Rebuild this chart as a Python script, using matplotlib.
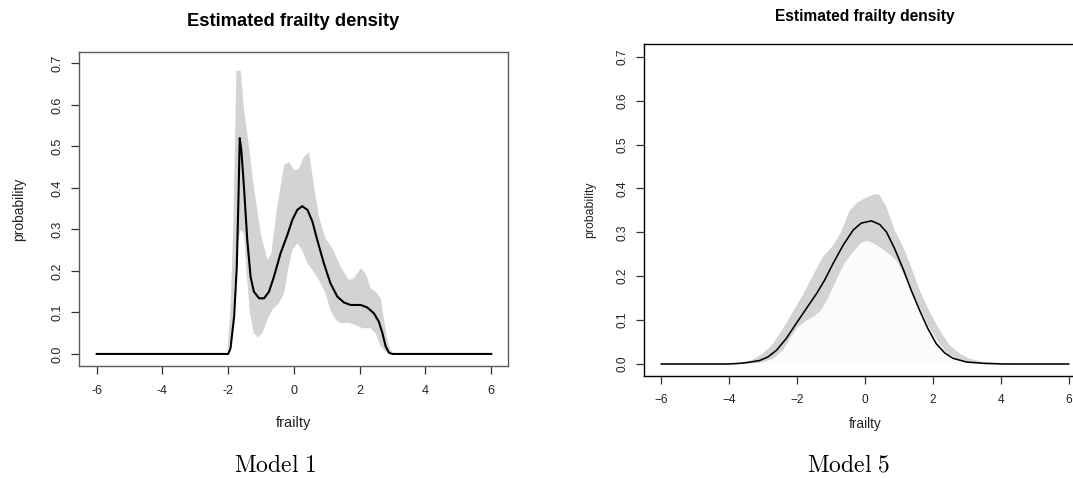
import matplotlib
matplotlib.use("Agg")
import matplotlib.pyplot as plt

plt.rcParams['font.family'] = ['Liberation Sans', 'DejaVu Sans']
plt.rcParams['mathtext.fontset'] = 'cm'

# ---- Model 1 (left) ----
m1_x = [-6, -2.0, -1.93, -1.82, -1.74, -1.69, -1.65, -1.60, -1.52, -1.42, -1.32, -1.22,
        -1.06, -0.91, -0.76, -0.61, -0.41, -0.20, -0.05, 0.10, 0.25, 0.41, 0.56, 0.71,
        0.91, 1.11, 1.32, 1.52, 1.72, 2.03, 2.23, 2.43, 2.58, 2.69, 2.79, 2.89, 2.99, 6]
m1_mean = [0, 0, 0.014, 0.09, 0.21, 0.37, 0.52, 0.49, 0.40, 0.274, 0.186, 0.150,
           0.134, 0.134, 0.150, 0.186, 0.242, 0.287, 0.323, 0.347, 0.356, 0.347, 0.319, 0.274,
           0.218, 0.170, 0.138, 0.124, 0.118, 0.118, 0.112, 0.098, 0.078, 0.050, 0.018, 0.003, 0, 0]

m1_up_x = [-2.03, -1.93, -1.85, -1.79, -1.75, -1.62, -1.52, -1.42, -1.22, -1.01, -0.81, -0.69,
           -0.51, -0.30, -0.15, 0.0, 0.15, 0.30, 0.46, 0.61, 0.76, 0.96, 1.17, 1.42, 1.67,
           1.82, 2.03, 2.18, 2.33, 2.48, 2.64, 2.74, 2.84, 2.94, 3.04]
m1_up = [0, 0.114, 0.29, 0.53, 0.682, 0.682, 0.587, 0.531, 0.403, 0.29, 0.226, 0.242,
         0.355, 0.455, 0.463, 0.443, 0.445, 0.475, 0.486, 0.403, 0.331, 0.278, 0.254, 0.21, 0.178,
         0.182, 0.206, 0.194, 0.158, 0.150, 0.134, 0.082, 0.034, 0.01, 0]

m1_lo_x = [-2.03, -1.88, -1.77, -1.70, -1.62, -1.52, -1.44, -1.34, -1.22, -1.09, -0.96, -0.81,
           -0.66, -0.46, -0.30, -0.18, -0.05, 0.10, 0.25, 0.41, 0.56, 0.76, 0.96, 1.11, 1.27,
           1.42, 1.67, 1.87, 2.08, 2.33, 2.48, 2.64, 2.79, 2.89]
m1_lo = [0, 0.05, 0.21, 0.274, 0.299, 0.29, 0.194, 0.098, 0.05, 0.040, 0.05, 0.082,
         0.106, 0.122, 0.146, 0.202, 0.250, 0.266, 0.250, 0.218, 0.202, 0.178, 0.146, 0.106, 0.082,
         0.074, 0.075, 0.070, 0.062, 0.062, 0.05, 0.018, 0.006, 0]

# ---- Model 5 (right) ----
m5_x = [-6, -4.0, -3.69, -3.40, -3.10, -2.86, -2.61, -2.32, -2.02, -1.73, -1.43, -1.19, -0.94,
        -0.65, -0.35, -0.11, 0.19, 0.43, 0.63, 0.87, 1.12, 1.36, 1.61, 1.85, 2.10, 2.35,
        2.59, 2.98, 3.47, 4.06, 6]
m5_mean = [0, 0, 0.0015, 0.004, 0.008, 0.016, 0.031, 0.058, 0.093, 0.126, 0.16, 0.191, 0.229,
           0.27, 0.305, 0.321, 0.326, 0.318, 0.301, 0.263, 0.217, 0.168, 0.122, 0.081, 0.046, 0.025,
           0.013, 0.0046, 0.0015, 0, 0]

m5_up_x = [-3.98, -3.59, -3.30, -3.00, -2.71, -2.41, -2.12, -1.83, -1.53, -1.24, -0.94, -0.70,
           -0.45, -0.21, 0.09, 0.28, 0.43, 0.63, 0.87, 1.12, 1.36, 1.61, 1.90, 2.20, 2.49,
           2.79, 3.08, 3.47, 4.06, 4.55]
m5_up = [0, 0.003, 0.01, 0.024, 0.046, 0.081, 0.119, 0.157, 0.202, 0.244, 0.27, 0.301,
         0.35, 0.369, 0.381, 0.387, 0.385, 0.358, 0.305, 0.267, 0.221, 0.168, 0.119, 0.077, 0.043,
         0.024, 0.012, 0.005, 0.0015, 0]

m5_lo_x = [-3.59, -3.10, -2.71, -2.41, -2.17, -1.97, -1.73, -1.48, -1.29, -1.09, -0.84, -0.60,
           -0.35, -0.11, 0.09, 0.33, 0.63, 0.92, 1.17, 1.41, 1.66, 1.90, 2.15, 2.39, 2.69,
           3.08, 3.47]
m5_lo = [0, 0.002, 0.011, 0.031, 0.062, 0.084, 0.098, 0.109, 0.122, 0.149, 0.191, 0.229,
         0.255, 0.276, 0.280, 0.271, 0.255, 0.236, 0.198, 0.160, 0.119, 0.081, 0.050, 0.027, 0.012,
         0.003, 0]

xticks = [-6, -4, -2, 0, 2, 4, 6]
yticks = [0.0, 0.1, 0.2, 0.3, 0.4, 0.5, 0.6, 0.7]
W, H = 1073, 479

fig = plt.figure(figsize=(10.73, 4.79), dpi=100)


def panel(box, xlim, ylim, mx, my, ux, uy, lx, ly, edge, minus, lw, inner, tsize):
    x0, y0, x1, y1 = box
    ax = fig.add_axes([x0 / W, 1 - y1 / H, (x1 - x0) / W, (y1 - y0) / H])
    px = list(ux) + list(lx)[::-1]
    py = list(uy) + list(ly)[::-1]
    ax.fill(px, py, color='#d3d3d3', lw=0)
    if inner:
        ax.fill(list(lx), list(ly), color='#fbfbfb', lw=0)
    ax.plot(mx, my, color='black', lw=lw, solid_joinstyle='round')
    ax.set_xlim(*xlim)
    ax.set_ylim(*ylim)
    ax.set_xticks(xticks)
    if minus:
        ax.set_xticklabels([f"{t}".replace('-', '\u2212') for t in xticks])
    else:
        ax.set_xticklabels([f"{t}" for t in xticks])
    ax.set_yticks(yticks)
    ax.set_yticklabels([f"{t:.1f}" for t in yticks], rotation=90, va='center')
    ax.tick_params(length=5.5, width=0.9, color='#333333', labelsize=tsize, pad=8,
                   labelcolor='#222222')
    ax.tick_params(axis='y', pad=6)
    for s in ax.spines.values():
        s.set_color(edge)
        s.set_linewidth(1.0)
    return ax


axl = panel((79.3, 51.7, 508, 366), (-6.53, 6.51), (-0.029, 0.728),
            m1_x, m1_mean, m1_up_x, m1_up, m1_lo_x, m1_lo, '#5a5a5a', False, 1.5, False, 9)
axr = panel((644, 44, 1085, 375.7), (-6.51, 6.48), (-0.0267, 0.729),
            m5_x, m5_mean, m5_up_x, m5_up, m5_lo_x, m5_lo, 'black', True, 1.15, True, 8.6)

# titles and axis labels placed as in the R output
fig.text(293.5 / W, 1 - 21 / H, "Estimated frailty density", ha='center', va='center',
         fontsize=13.2, fontweight='bold')
fig.text(864.7 / W, 1 - 16.5 / H, "Estimated frailty density", ha='center', va='center',
         fontsize=11.2, fontweight='bold')
fig.text(19 / W, 1 - 209 / H, "probability", rotation=90, ha='center', va='center',
         fontsize=10, color='#222222')
fig.text(589.7 / W, 1 - 210 / H, "probability", rotation=90, ha='center', va='center',
         fontsize=8.8, color='#222222')
fig.text(293.5 / W, 1 - 423 / H, "frailty", ha='center', va='center', fontsize=10.5,
         color='#222222')
fig.text(864.7 / W, 1 - 424.3 / H, "frailty", ha='center', va='center', fontsize=9.8,
         color='#222222')
fig.text(275 / W, 1 - 466 / H, r"$\mathrm{Model\ 1}$", ha='center', va='center', fontsize=17)
fig.text(848 / W, 1 - 466 / H, r"$\mathrm{Model\ 5}$", ha='center', va='center', fontsize=17)

fig.savefig("out.png", dpi=100)
